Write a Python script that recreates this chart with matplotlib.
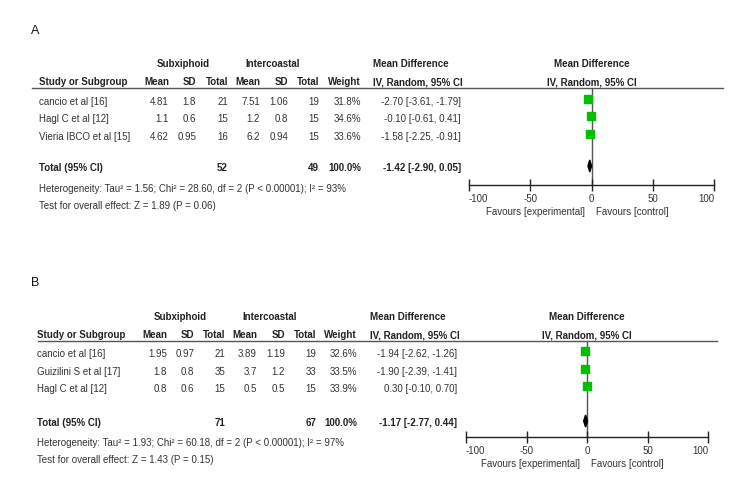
import matplotlib
matplotlib.use("Agg")
import matplotlib.pyplot as plt
import numpy as np

plt.rcParams['font.family'] = ['Liberation Sans', 'DejaVu Sans']

# ---------------- data ----------------
a_studies = ["cancio et al [16]", "Hagl C et al [12]", "Vieria IBCO et al [15]"]
a_sub_mean = [4.81, 1.1, 4.62]
a_sub_sd = [1.8, 0.6, 0.95]
a_sub_n = [21, 15, 16]
a_int_mean = [7.51, 1.2, 6.2]
a_int_sd = [1.06, 0.8, 0.94]
a_int_n = [19, 15, 15]
a_weight = [31.8, 34.6, 33.6]
a_md = [-2.70, -0.10, -1.58]
a_lo = [-3.61, -0.61, -2.25]
a_hi = [-1.79, 0.41, -0.91]
a_total = (52, 49, -1.42, -2.90, 0.05)
a_het = "Heterogeneity: Tau\u00b2 = 1.56; Chi\u00b2 = 28.60, df = 2 (P < 0.00001); I\u00b2 = 93%"
a_test = "Test for overall effect: Z = 1.89 (P = 0.06)"

b_studies = ["cancio et al [16]", "Guizilini S et al [17]", "Hagl C et al [12]"]
b_sub_mean = [1.95, 1.8, 0.8]
b_sub_sd = [0.97, 0.8, 0.6]
b_sub_n = [21, 35, 15]
b_int_mean = [3.89, 3.7, 0.5]
b_int_sd = [1.19, 1.2, 0.5]
b_int_n = [19, 33, 15]
b_weight = [32.6, 33.5, 33.9]
b_md = [-1.94, -1.90, 0.30]
b_lo = [-2.62, -2.39, -0.10]
b_hi = [-1.26, -1.41, 0.70]
b_total = (71, 67, -1.17, -2.77, 0.44)
b_het = "Heterogeneity: Tau\u00b2 = 1.93; Chi\u00b2 = 60.18, df = 2 (P < 0.00001); I\u00b2 = 97%"
b_test = "Test for overall effect: Z = 1.43 (P = 0.15)"

xticks = [-100, -50, 0, 50, 100]
fav_left = "Favours [experimental]"
fav_right = "Favours [control]"

# ---------------- layout (pixels) ----------------
W, H = 750, 498
FS = 7.0
FSB = 7.0
TXT = '#333333'
HDR = '#222222'
GREEN = '#00c000'

fig = plt.figure(figsize=(W / 100, H / 100), dpi=100)
tx = fig.add_axes([0, 0, 1, 1])
tx.set_xlim(0, W)
tx.set_ylim(H, 0)
tx.axis('off')

layoutA = dict(label='A', label_xy=(31, 31), h1=64, h2=82, line=88, line_x=(32, 723),
               rows=[102, 119, 137], total=168, het=189, test=206, axis=185,
               px=(469, 714),
               cols=dict(study=39, m1=169, s1=196, n1=228, m2=260, s2=288, n2=319, w=361, ci=461,
                         sub=183, int=273, md=373))
layoutB = dict(label='B', label_xy=(31, 283), h1=317, h2=335, line=341, line_x=(38, 717),
               rows=[354, 372, 389], total=423, het=443, test=460, axis=437,
               px=(466, 708),
               cols=dict(study=37, m1=167, s1=194, n1=225, m2=257, s2=285, n2=316, w=357, ci=457,
                         sub=180, int=270, md=370))


def fmt(v):
    return repr(float(v)) if not float(v).is_integer() else str(v)


def panel(L, studies, sm, ssd, sn, im, isd, inn, wt, md, lo, hi, total, het, test):
    c = L['cols']
    tx.text(*L['label_xy'], L['label'], fontsize=9, color='#111', ha='left', va='center')
    # headers
    tx.text(c['sub'], L['h1'], "Subxiphoid", fontsize=FSB, weight='bold', color=HDR, ha='center', va='center')
    tx.text(c['int'], L['h1'], "Intercoastal", fontsize=FSB, weight='bold', color=HDR, ha='center', va='center')
    tx.text(c['md'], L['h1'], "Mean Difference", fontsize=FSB, weight='bold', color=HDR, ha='left', va='center')
    zero_px = (L['px'][0] + L['px'][1]) / 2
    tx.text(zero_px, L['h1'], "Mean Difference", fontsize=FSB, weight='bold', color=HDR, ha='center', va='center')
    tx.text(c['study'], L['h2'], "Study or Subgroup", fontsize=FSB, weight='bold', color=HDR, ha='left', va='center')
    for key, lab in [('m1', 'Mean'), ('s1', 'SD'), ('n1', 'Total'), ('m2', 'Mean'), ('s2', 'SD'),
                     ('n2', 'Total'), ('w', 'Weight')]:
        tx.text(c[key], L['h2'], lab, fontsize=FSB, weight='bold', color=HDR, ha='right', va='center')
    tx.text(c['md'], L['h2'], "IV, Random, 95% CI", fontsize=FSB, weight='bold', color=HDR, ha='left', va='center')
    tx.text(zero_px, L['h2'], "IV, Random, 95% CI", fontsize=FSB, weight='bold', color=HDR, ha='center', va='center')
    tx.plot(L['line_x'], [L['line'], L['line']], color='#555555', lw=1.0)

    # rows
    for i, y in enumerate(L['rows']):
        tx.text(c['study'], y, studies[i], fontsize=FS, color=TXT, ha='left', va='center')
        vals = [fmt(sm[i]), fmt(ssd[i]), str(sn[i]), fmt(im[i]), fmt(isd[i]), str(inn[i]), f"{wt[i]:.1f}%"]
        for key, v in zip(['m1', 's1', 'n1', 'm2', 's2', 'n2', 'w'], vals):
            tx.text(c[key], y, v, fontsize=FS, color=TXT, ha='right', va='center')
        tx.text(c['ci'], y, f"{md[i]:.2f} [{lo[i]:.2f}, {hi[i]:.2f}]", fontsize=FS, color=TXT,
                ha='right', va='center')
    # total
    ty = L['total']
    tx.text(c['study'], ty, "Total (95% CI)", fontsize=FSB, weight='bold', color=HDR, ha='left', va='center')
    tx.text(c['n1'], ty, str(total[0]), fontsize=FSB, weight='bold', color=HDR, ha='right', va='center')
    tx.text(c['n2'], ty, str(total[1]), fontsize=FSB, weight='bold', color=HDR, ha='right', va='center')
    tx.text(c['w'], ty, "100.0%", fontsize=FSB, weight='bold', color=HDR, ha='right', va='center')
    tx.text(c['ci'], ty, f"{total[2]:.2f} [{total[3]:.2f}, {total[4]:.2f}]", fontsize=FSB,
            weight='bold', color=HDR, ha='right', va='center')
    tx.text(c['study'], L['het'], het, fontsize=FS, color=TXT, ha='left', va='center')
    tx.text(c['study'], L['test'], test, fontsize=FS, color=TXT, ha='left', va='center')

    # forest plot axes
    x0, x1 = L['px']
    top, bot = L['line'], L['axis']
    ax = fig.add_axes([x0 / W, 1 - bot / H, (x1 - x0) / W, (bot - top) / H])
    ax.set_xlim(-100, 100)
    ax.set_ylim(bot, top)
    ax.patch.set_alpha(0)
    for s in ['top', 'left', 'right']:
        ax.spines[s].set_visible(False)
    ax.spines['bottom'].set_color('#222222')
    ax.spines['bottom'].set_linewidth(1.0)
    ax.set_yticks([])
    ax.set_xticks(xticks)
    ax.set_xticklabels([str(t) for t in xticks])
    ax.tick_params(axis='x', direction='inout', length=8, width=1.0, color='#222222',
                   labelsize=FS, labelcolor=TXT, pad=2.5)
    labs = ax.get_xticklabels()
    labs[0].set_ha('left')
    labs[-1].set_ha('right')
    ax.axvline(0, color='#555555', lw=1.0, zorder=1)
    ys = np.array(L['rows']) - 3
    ax.hlines(ys, lo, hi, color='black', lw=0.8, zorder=2)
    ms = 5.2 * np.sqrt(np.array(wt) / 33.3)
    for xv, yv, m in zip(md, ys, ms):
        ax.plot([xv], [yv], marker='s', ms=m, color=GREEN, mec=GREEN, ls='none', zorder=3, clip_on=False)
    dy = L['total'] - 2
    ax.fill([total[3], total[2], total[4], total[2]], [dy, dy - 6, dy, dy + 6], color='black', zorder=3,
            clip_on=False)
    fy = L['axis'] + 27
    tx.text((x0 + x1) / 2 - 7, fy, fav_left, fontsize=FS, color=TXT, ha='right', va='center')
    tx.text((x0 + x1) / 2 + 4, fy, fav_right, fontsize=FS, color=TXT, ha='left', va='center')


panel(layoutA, a_studies, a_sub_mean, a_sub_sd, a_sub_n, a_int_mean, a_int_sd, a_int_n, a_weight,
      a_md, a_lo, a_hi, a_total, a_het, a_test)
panel(layoutB, b_studies, b_sub_mean, b_sub_sd, b_sub_n, b_int_mean, b_int_sd, b_int_n, b_weight,
      b_md, b_lo, b_hi, b_total, b_het, b_test)

fig.savefig("out.png", dpi=100)
